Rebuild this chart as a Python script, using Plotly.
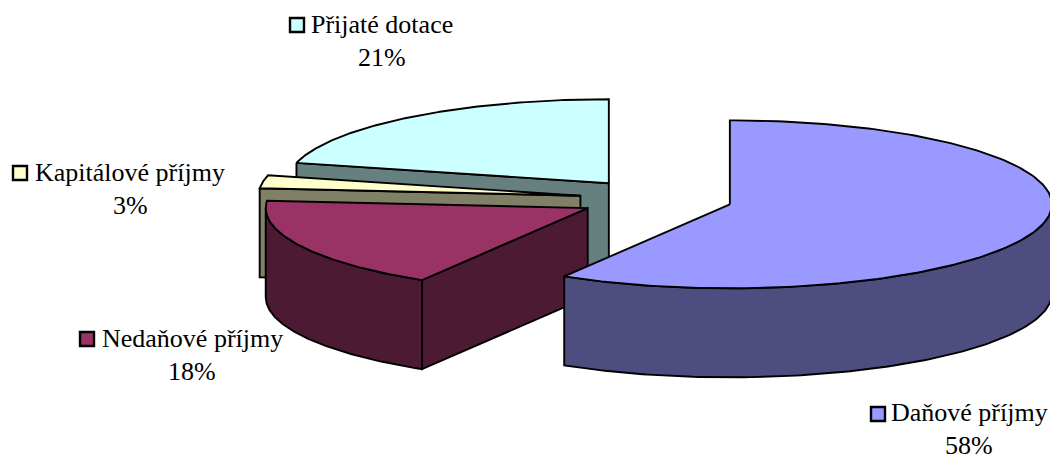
import numpy as np
import plotly.graph_objects as go

# Data
categories = ["Daňové příjmy", "Nedaňové příjmy", "Kapitálové příjmy", "Přijaté dotace"]
values = [58.6, 17.8, 2.5, 21.1]
percent_labels = ["58%", "18%", "3%", "21%"]

# Style
top_colors = ["#9999FF", "#993366", "#FFFFCC", "#CCFFFF"]
wall_colors = ["#4D4D80", "#4D1A33", "#808066", "#668080"]
FONT = "Liberation Serif"
FONT_SIZE = 26

# Pie projection (pixels of the picture)
CX, CY = 656, 199
RX, RY = 322, 84
DEPTH = 89
EXPLODE = 0.238

# Label layout: text centre x, first line y, key x, key y
label_pos = [(969, 412, 878, 414), (192, 338, 87, 339), (130, 172, 20, 173), (382, 24, 297, 25)]
LINE_GAP = 33


def pt(ax, ay, theta, r=1.0):
    t = np.radians(theta)
    return ax + r * RX * np.sin(t), ay - r * RY * np.cos(t)


fig = go.Figure()


def poly(xs, ys, color):
    fig.add_trace(go.Scatter(
        x=list(xs) + [xs[0]], y=list(ys) + [ys[0]], mode="lines", fill="toself",
        fillcolor=color, line=dict(color="black", width=1.9), hoverinfo="skip",
        showlegend=False))


edges = np.concatenate([[0], np.cumsum(values)]) / sum(values) * 360
order = list(range(len(values)))[::-1]  # paint back to front

for i in order:
    a, b = edges[i], edges[i + 1]
    mid = (a + b) / 2
    ax, ay = pt(CX, CY, mid, EXPLODE)

    # cut face at the starting radius, when it faces the viewer
    if np.sin(np.radians(a)) < -1e-6:
        ex, ey = pt(ax, ay, a)
        poly([ex, ax, ax, ex], [ey, ay, ay + DEPTH, ey + DEPTH], wall_colors[i])
    # cut face at the ending radius, when it faces the viewer
    if np.sin(np.radians(b)) > 1e-6:
        ex, ey = pt(ax, ay, b)
        poly([ex, ax, ax, ex], [ey, ay, ay + DEPTH, ey + DEPTH], wall_colors[i])
    # curved outer wall (front half of the ellipse)
    lo, hi = max(a, 90), min(b, 270)
    if hi > lo:
        th = np.linspace(lo, hi, 120)
        px, py = pt(ax, ay, th)
        poly(np.concatenate([px, px[::-1]]), np.concatenate([py, py[::-1] + DEPTH]), wall_colors[i])
    # top face
    th = np.linspace(a, b, 200)
    px, py = pt(ax, ay, th)
    poly(np.concatenate([[ax], px]), np.concatenate([[ay], py]), top_colors[i])

# Labels with keys
for name, pct, col, (tx, ty, kx, ky) in zip(categories, percent_labels, top_colors, label_pos):
    fig.add_trace(go.Scatter(
        x=[kx], y=[ky], mode="markers", hoverinfo="skip", showlegend=False,
        marker=dict(symbol="square", size=14, color=col, line=dict(color="black", width=2.4))))
    fig.add_annotation(x=tx, y=ty, text=name, showarrow=False, xanchor="center", yanchor="middle",
                       font=dict(family=FONT, size=FONT_SIZE, color="black"))
    fig.add_annotation(x=tx, y=ty + LINE_GAP, text=pct, showarrow=False,
                       xanchor="center", yanchor="middle",
                       font=dict(family=FONT, size=FONT_SIZE, color="black"))

fig.update_xaxes(range=[0, 1050], visible=False, fixedrange=True)
fig.update_yaxes(range=[456, 0], visible=False, fixedrange=True)
fig.update_layout(width=1050, height=456, margin=dict(l=0, r=0, t=0, b=0),
                  paper_bgcolor="white", plot_bgcolor="white", showlegend=False)
fig.write_html("out.html", config={"displayModeBar": False},
               post_script="document.body.style.margin='0';document.documentElement.style.overflow='hidden';")
